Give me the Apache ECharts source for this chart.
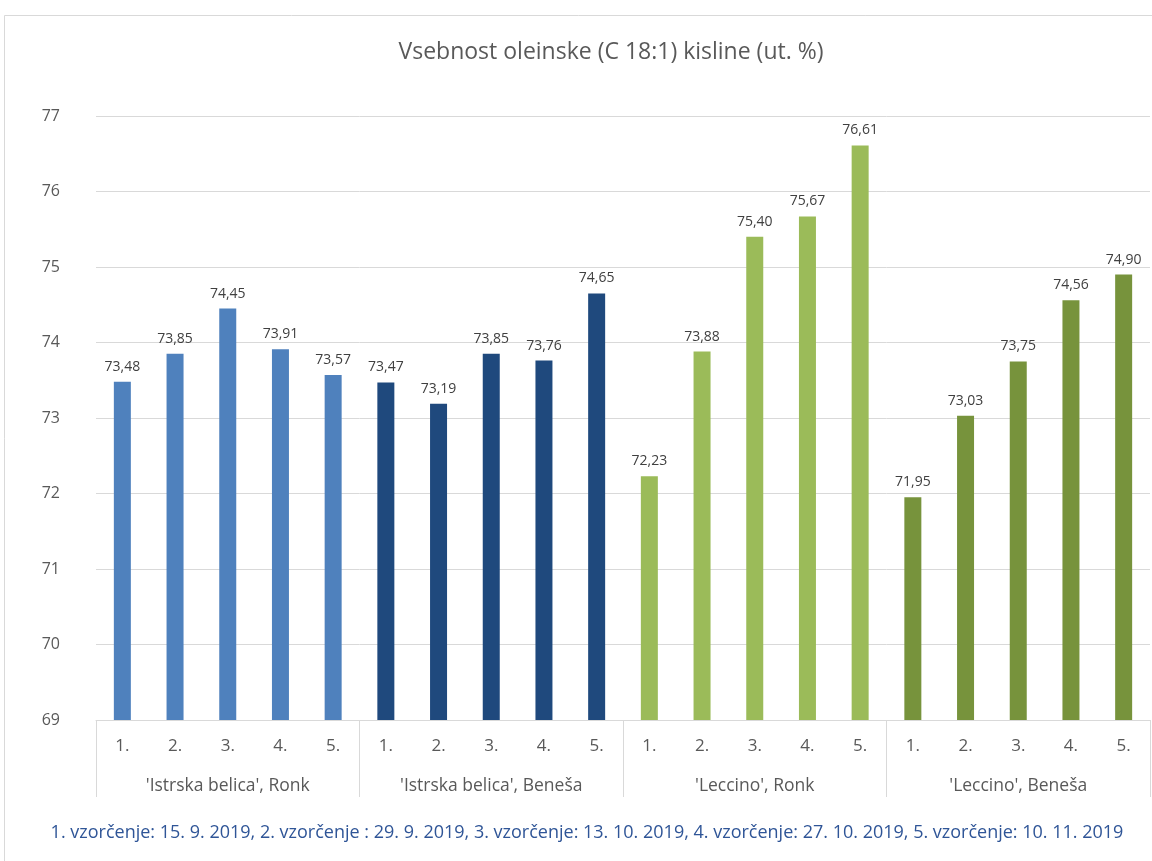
<!DOCTYPE html>
<html>
<head>
<meta charset="utf-8">
<script src="https://cdn.jsdelivr.net/npm/echarts@6/dist/echarts.min.js"></script>
<style>
  html, body { margin: 0; padding: 0; background: #fff; }
  #main { width: 1152px; height: 861px; }
</style>
</head>
<body>
<div id="main"></div>
<script>
// vzorčenja
const samples = ['1.', '2.', '3.', '4.', '5.']
const groups = ["'Istrska belica', Ronk", "'Istrska belica', Beneša", "'Leccino', Ronk", "'Leccino', Beneša"]
const groupColors = ['#4f81bd', '#1f497d', '#9bbb59', '#77933c']

const istrskaRonk = [73.48, 73.85, 74.45, 73.91, 73.57]
const istrskaBenesa = [73.47, 73.19, 73.85, 73.76, 74.65]
const leccinoRonk = [72.23, 73.88, 75.40, 75.67, 76.61]
const leccinoBenesa = [71.95, 73.03, 73.75, 74.56, 74.90]

const yTicks = [69, 70, 71, 72, 73, 74, 75, 76, 77]
const footnote = '1. vzorčenje: 15. 9. 2019, 2. vzorčenje : 29. 9. 2019, 3. vzorčenje: 13. 10. 2019, 4. vzorčenje: 27. 10. 2019, 5. vzorčenje: 10. 11. 2019'

const font = '"Open Sans", sans-serif'
const all = [istrskaRonk, istrskaBenesa, leccinoRonk, leccinoBenesa]
const categories = []
const values = []
all.forEach((arr, g) => {
  arr.forEach((v, i) => {
    categories.push(samples[i])
    values.push({ value: v, itemStyle: { color: groupColors[g] } })
  })
})

const myChart = echarts.init(document.getElementById('main'))
const option = {
  backgroundColor: '#fff',
  textStyle: { fontFamily: font },
  graphic: [
    {
      type: 'rect',
      shape: { x: 4.5, y: 15.5, width: 1160, height: 860 },
      style: { fill: 'none', stroke: '#d9d9d9', lineWidth: 1 },
      silent: true,
      z: -1
    },
    {
      type: 'text',
      x: 587,
      y: 833,
      style: { text: footnote, fill: '#2f5597', font: '18px ' + font, align: 'center', verticalAlign: 'middle' }
    },
    {
      type: 'text',
      x: 611,
      y: 52,
      style: { text: 'Vsebnost oleinske (C 18:1) kisline (ut. %)', fill: '#595959', font: '23px ' + font, align: 'center', verticalAlign: 'middle' }
    }
  ],
  grid: { left: 96, right: 2, top: 116, bottom: 141 },
  xAxis: [
    {
      type: 'category',
      data: categories,
      axisLine: { lineStyle: { color: '#d9d9d9' } },
      axisTick: { show: false },
      axisLabel: { color: '#595959', fontSize: 17, margin: 18, interval: 0, fontFamily: font }
    },
    {
      type: 'category',
      data: groups,
      position: 'bottom',
      axisLine: { show: false },
      axisTick: { show: true, length: 77, lineStyle: { color: '#d9d9d9' } },
      axisLabel: { color: '#595959', fontSize: 17.5, margin: 57, interval: 0, fontFamily: font }
    }
  ],
  yAxis: {
    type: 'value',
    min: yTicks[0],
    max: yTicks[yTicks.length - 1],
    interval: 1,
    axisLine: { show: false },
    axisTick: { show: false },
    axisLabel: { color: '#595959', fontSize: 16, margin: 36, fontFamily: font },
    splitLine: { lineStyle: { color: '#d9d9d9' } }
  },
  series: [
    {
      type: 'bar',
      xAxisIndex: 0,
      barWidth: 17,
      data: values,
      label: {
        show: true,
        position: 'top',
        distance: 8,
        color: '#404040',
        fontSize: 14,
        fontFamily: font,
        formatter: p => p.value.toFixed(2).replace('.', ',')
      }
    }
  ]
}
myChart.setOption(option)
</script>
</body>
</html>
